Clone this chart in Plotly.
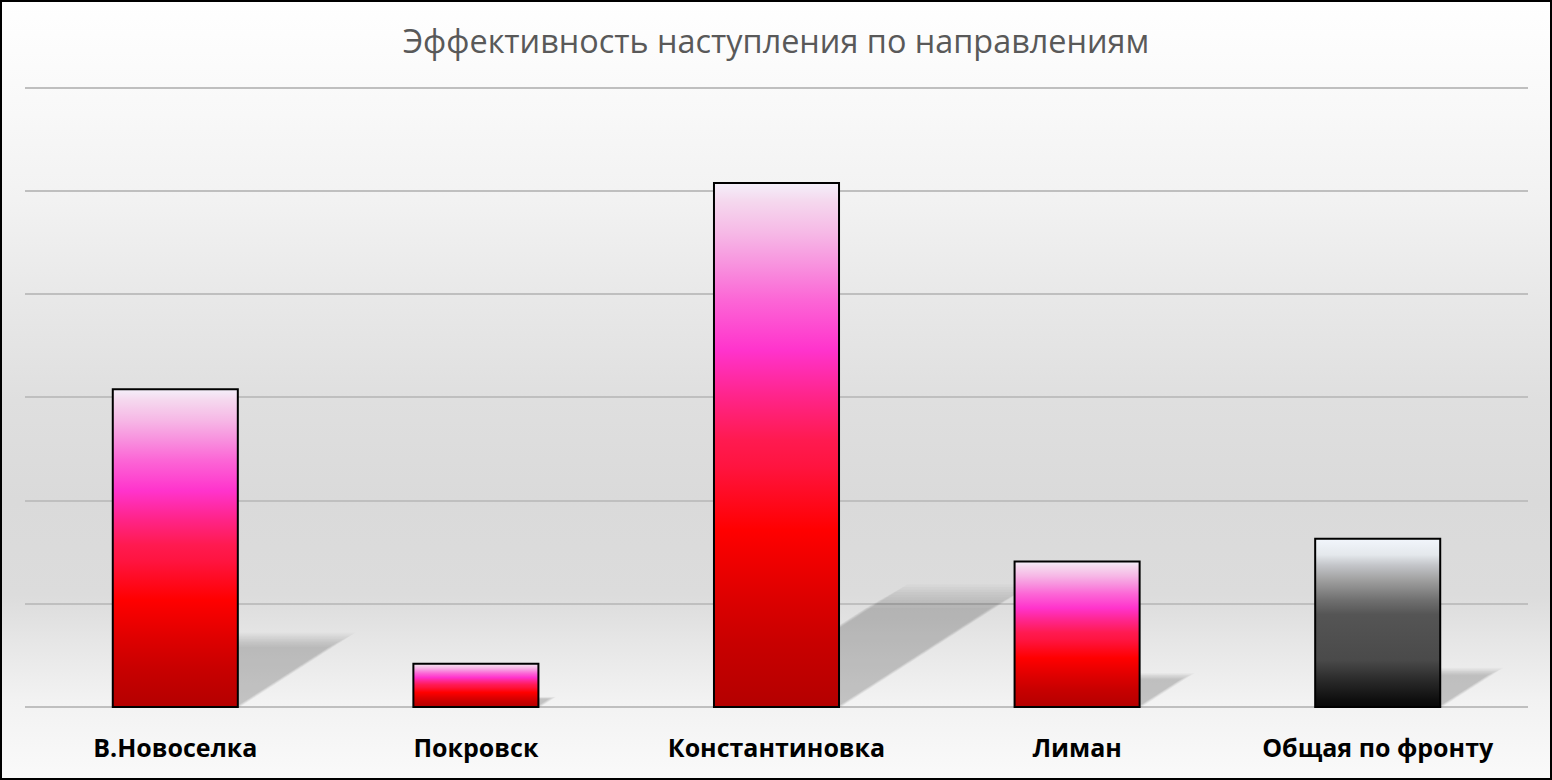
import plotly.graph_objects as go

# ---- data ----
categories = ["В.Новоселка", "Покровск", "Константиновка", "Лиман", "Общая по фронту"]
values = [3.08, 0.42, 5.08, 1.41, 1.63]
schemes = ["red", "red", "red", "red", "gray"]
y_grid = [0, 1, 2, 3, 4, 5, 6]
title_text = "Эффективность наступления по направлениям"

# ---- styles ----
W, H = 1552, 780
BAR_W = 0.416
SH_H = 0.223     # shadow height relative to bar value
SH_DX = 0.119    # shadow horizontal skew per unit of value
Y_MIN, Y_MAX = -0.02, 6.02

grad = {
    "red": [[0.0, "#B40000"], [0.12, "#C80000"], [0.21, "#DD0000"], [0.337, "#FF0000"],
            [0.46, "#FF1440"], [0.51, "#FF1A50"], [0.59, "#FF2488"], [0.68, "#FF33CC"],
            [0.777, "#FC66D6"], [0.84, "#F890DE"], [0.903, "#F6B8E6"], [0.965, "#F5D8EE"],
            [1.0, "#F4F0FA"]],
    "gray": [[0.0, "#080808"], [0.04, "#0E0E0E"], [0.16, "#2A2A2A"], [0.28, "#4A4A4A"],
             [0.55, "#555555"], [0.637, "#707070"], [0.756, "#A0A0A0"], [0.845, "#C4C6CA"],
             [0.905, "#E4E8EC"], [1.0, "#F2F6FC"]],
}
bg_scale = [[0.0, "#FAFAFA"], [0.103, "#F2F2F2"], [0.179, "#E6E6E6"], [0.237, "#DCDCDC"],
            [0.359, "#DADADA"], [0.487, "#DFDFDF"], [0.615, "#E8E8E8"], [0.744, "#F2F2F2"],
            [0.872, "#F9F9F9"], [1.0, "#FFFFFF"]]

fig = go.Figure()

# background gradient (full-figure helper axes)
fig.add_trace(go.Scatter(x=[0, 1, 1, 0, 0], y=[0, 0, 1, 1, 0], mode="none", fill="toself",
                         fillgradient=dict(type="vertical", colorscale=bg_scale, start=0, stop=1),
                         xaxis="x", yaxis="y", hoverinfo="skip", showlegend=False))

xs = list(range(len(categories)))

# soft shadows: several faint layers
n_layers = 10
for i, v in zip(xs, values):
    for k in range(n_layers):
        t = k / (n_layers - 1)          # 0..1
        sc = 1.05 - 0.2 * t
        off = 0.008 - 0.016 * t
        h = SH_H * v * sc
        dx = SH_DX * v * sc
        x0, x1 = i - BAR_W / 2 + off, i + BAR_W / 2 + off
        fig.add_trace(go.Scatter(
            x=[x0, x1, x1 + dx, x0 + dx, x0], y=[0, 0, h, h, 0],
            mode="none", fill="toself", fillcolor="rgba(0,0,0,0.021)",
            xaxis="x2", yaxis="y2", hoverinfo="skip", showlegend=False))

# gradient bar fills
for i, v, s in zip(xs, values, schemes):
    x0, x1 = i - BAR_W / 2, i + BAR_W / 2
    fig.add_trace(go.Scatter(
        x=[x0, x1, x1, x0, x0], y=[0, 0, v, v, 0], mode="none", fill="toself",
        fillgradient=dict(type="vertical", colorscale=grad[s], start=0, stop=v),
        xaxis="x2", yaxis="y2", hoverinfo="skip", showlegend=False))

# bar outlines (actual bars)
fig.add_trace(go.Bar(x=xs, y=values, width=BAR_W, marker=dict(color="rgba(0,0,0,0)",
                     line=dict(color="black", width=2)), xaxis="x3", yaxis="y3",
                     showlegend=False, hovertext=categories))

px_l, px_r, px_t, px_b = 25, 1528, 88, 707
ppu = (px_b - px_t) / 6.0
dom_bot = px_b + (0 - Y_MIN) * ppu
dom_top = px_t - (Y_MAX - 6) * ppu

fig.update_layout(
    width=W, height=H,
    margin=dict(l=0, r=0, t=0, b=0, pad=0),
    paper_bgcolor="white", plot_bgcolor="rgba(0,0,0,0)",
    title=dict(text=title_text, x=0.5, xanchor="center", y=1 - 42 / H, yanchor="middle",
               font=dict(family="Open Sans", size=32.4, color="#595959")),
    xaxis=dict(domain=[0, 1], range=[0, 1], visible=False, fixedrange=True),
    yaxis=dict(domain=[0, 1], range=[0, 1], visible=False, fixedrange=True),
    xaxis2=dict(domain=[px_l / W, px_r / W], anchor="y2", range=[-0.5, len(categories) - 0.5],
                tickvals=xs, ticktext=categories, showgrid=False, showline=False, zeroline=False,
                ticks="", ticklabelstandoff=22,
                tickfont=dict(family="Open Sans", size=25, color="black", weight="bold")),
    yaxis2=dict(domain=[1 - dom_bot / H, 1 - dom_top / H], anchor="x2", range=[Y_MIN, Y_MAX],
                tickvals=y_grid, showticklabels=False, showgrid=True, gridcolor="#BFBFBF",
                gridwidth=1.5, zeroline=False, showline=False, ticks=""),
    xaxis3=dict(overlaying="x2", anchor="y3", range=[-0.5, len(categories) - 0.5], visible=False),
    yaxis3=dict(overlaying="y2", anchor="x3", range=[Y_MIN, Y_MAX], visible=False),
    shapes=[dict(type="rect", xref="paper", yref="paper", x0=0, x1=1, y0=0, y1=1,
                 line=dict(color="black", width=4), fillcolor="rgba(0,0,0,0)", layer="above")],
)

fig.write_html("out.html", config={"displayModeBar": False},
               post_script="document.body.style.margin='0';document.body.style.overflow='hidden';")
